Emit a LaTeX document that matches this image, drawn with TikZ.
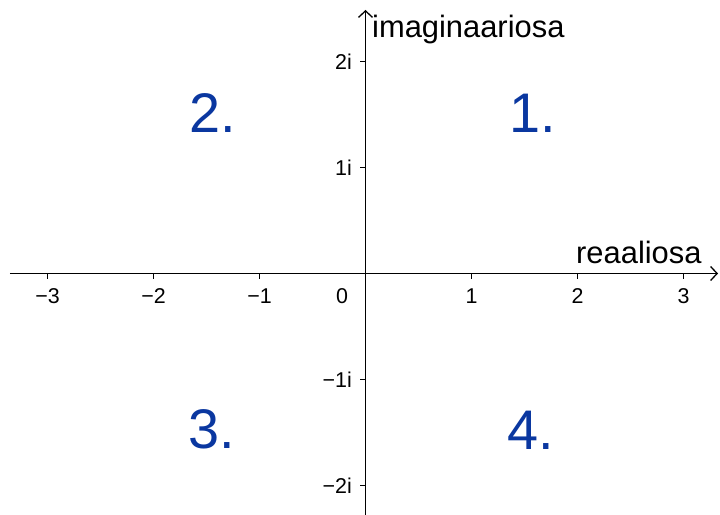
\documentclass[tikz,border=0pt]{standalone}
\usepackage{fontspec}
\setmainfont{Liberation Sans}
\usetikzlibrary{arrows.meta}
\definecolor{quadblue}{RGB}{10,55,160}
\tikzset{
  axis/.style={line width=1.7bp, -{Straight Barb[length=6.5bp,width=14bp,line width=1.3bp]}},
  tickmark/.style={line width=1.7bp},
  axislabel/.style={inner sep=0pt, anchor=base west, font=\fontsize{31}{36}\selectfont},
  ticklabel/.style={inner sep=0pt, font=\fontsize{21.5}{25}\selectfont},
  quad/.style={inner sep=0pt, text=quadblue, font=\fontsize{56}{60}\selectfont}
}
\begin{document}
\begin{tikzpicture}[x=106bp,y=106bp]
\useasboundingbox (-365.5bp,-241.5bp) rectangle (354.5bp,273.5bp);
\coordinate (O) at (0,0);
\coordinate (xs) at (-355.5bp,0);
\coordinate (xe) at (352.5bp,0);
\coordinate (ys) at (0,-245bp);
\coordinate (ye) at (0,263.5bp);
\draw[axis] (xs) -- (xe);
\draw[axis] (ys) -- (ye);
% ticks on x axis
\foreach \k in {-3,-2,-1,1,2,3} {
  \draw[tickmark] (\k,0) -- ++(0,-5bp);
}
\foreach \k/\t in {-3/−3,-2/−2,-1/−1,1/1,2/2,3/3} {
  \node[ticklabel, anchor=base] (xl\k) at ([yshift=-29.5bp]\k,0) {\t};
}
\node[ticklabel, anchor=base] (xl0) at (-23.5bp,-29.5bp) {0};
% ticks on y axis
\foreach \k in {-2,-1,1,2} {
  \draw[tickmark] (0,\k) -- ++(-5bp,0);
}
\foreach \k/\t in {-2/−2i,-1/−1i,1/1i,2/2i} {
  \node[ticklabel, anchor=base east] (yl\k) at ([xshift=-13.5bp,yshift=-8bp]0,\k) {\t};
}
\node[axislabel] (im) at (6.5bp,235.5bp) {imaginaariosa};
\node[axislabel] (re) at (210.5bp,10.5bp) {reaaliosa};
\node[quad] (q1) at (167.5bp,160.5bp) {1.};
\node[quad] (q2) at (-152.5bp,160.5bp) {2.};
\node[quad] (q3) at (-153.5bp,-155.5bp) {3.};
\node[quad] (q4) at (165.5bp,-156.5bp) {4.};
\end{tikzpicture}
\end{document}
